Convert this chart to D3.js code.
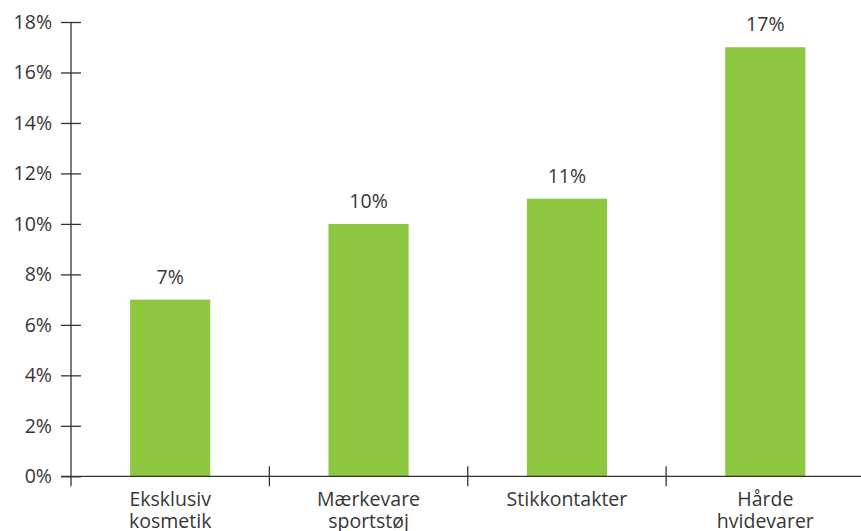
<!DOCTYPE html>
<html>
<head>
<meta charset="utf-8">
<script src="https://cdn.jsdelivr.net/npm/d3@7"></script>
<style>
  body { margin: 0; background: #fff; }
  svg text { font-family: "Open Sans", "Noto Sans", sans-serif; fill: #363636; }
</style>
</head>
<body>
<div id="chart"></div>
<script>
const categories = [["Eksklusiv", "kosmetik"], ["Mærkevare", "sportstøj"], ["Stikkontakter"], ["Hårde", "hvidevarer"]];
const values = [0.07, 0.10, 0.11, 0.17];
const yTicks = [0, 0.02, 0.04, 0.06, 0.08, 0.10, 0.12, 0.14, 0.16, 0.18];

const width = 861, height = 531;
const margin = {left: 71, right: 864.5, top: 22, bottom: 476.3};

const svg = d3.select('#chart').append('svg')
    .attr('width', width)
    .attr('height', height);

const x = d3.scaleBand()
    .domain(d3.range(categories.length))
    .range([margin.left, margin.right])
    .padding(0);

const y = d3.scaleLinear()
    .domain([0, 0.18])
    .range([margin.bottom, margin.top]);

const barW = x.bandwidth() * 0.404;
const fmt = d3.format('.0%');

// bars
svg.selectAll('.bar')
    .data(values)
    .enter().append('rect')
    .attr('class', 'bar')
    .attr('x', (d, i) => x(i) + x.bandwidth() / 2 - barW / 2)
    .attr('y', d => y(d))
    .attr('width', barW)
    .attr('height', d => y(0) - y(d))
    .attr('fill', '#8dc63f');

// value labels
svg.selectAll('.val')
    .data(values)
    .enter().append('text')
    .attr('class', 'val')
    .attr('x', (d, i) => x(i) + x.bandwidth() / 2)
    .attr('y', d => y(d) - 16)
    .attr('text-anchor', 'middle')
    .style('font-size', '19.5px')
    .text(d => fmt(d));

// y axis
const yAxis = svg.append('g')
    .attr('transform', `translate(${margin.left},0)`)
    .call(d3.axisLeft(y).tickValues(yTicks).tickFormat(fmt).tickSize(10).tickPadding(9));
yAxis.select('.domain').remove();
yAxis.selectAll('.tick line').attr('x1', 10).attr('x2', -10).attr('stroke', '#333').attr('stroke-width', 1.3);
yAxis.selectAll('.tick text')
    .style('font-size', '19.5px')
    .style('font-family', '"Open Sans", sans-serif')
    .attr('fill', '#363636');
yAxis.append('line')
    .attr('x1', 0).attr('x2', 0)
    .attr('y1', margin.top).attr('y2', margin.bottom + 10)
    .attr('stroke', '#333').attr('stroke-width', 1.3);

// x axis
const xAxis = svg.append('g');
xAxis.append('line')
    .attr('x1', margin.left - 10).attr('x2', width)
    .attr('y1', y(0)).attr('y2', y(0))
    .attr('stroke', '#333').attr('stroke-width', 1.3);
xAxis.selectAll('.xtick')
    .data(d3.range(1, categories.length))
    .enter().append('line')
    .attr('x1', i => x(i)).attr('x2', i => x(i))
    .attr('y1', y(0) - 10).attr('y2', y(0) + 10)
    .attr('stroke', '#333').attr('stroke-width', 1.3);

const labels = xAxis.selectAll('.xlabel')
    .data(categories)
    .enter().append('text')
    .attr('class', 'xlabel')
    .attr('text-anchor', 'middle')
    .attr('x', (d, i) => x(i) + x.bandwidth() / 2)
    .attr('y', y(0) + 30)
    .style('font-size', '19.5px');
labels.selectAll('tspan')
    .data(d => d)
    .enter().append('tspan')
    .attr('x', function () { return this.parentNode.getAttribute('x'); })
    .attr('dy', (d, i) => i === 0 ? 0 : 22)
    .text(d => d);
</script>
</body>
</html>
